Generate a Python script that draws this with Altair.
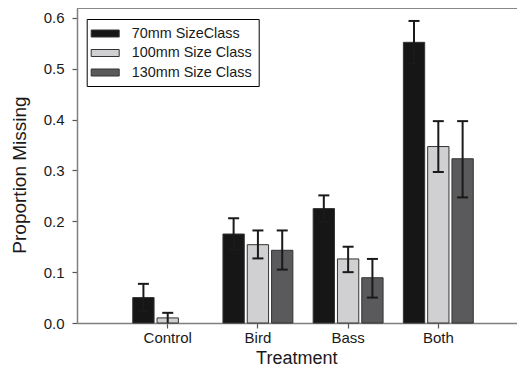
import altair as alt
import pandas as pd

treatments = ["Control", "Bird", "Bass", "Both"]
size_classes = ["70mm SizeClass", "100mm Size Class", "130mm Size Class"]

# proportion missing per treatment, one list per size class (None = no bar)
prop_70 = [0.050, 0.175, 0.225, 0.552]
prop_100 = [0.010, 0.154, 0.126, 0.347]
prop_130 = [None, 0.143, 0.089, 0.323]

# error bar ends (upper / lower)
hi_70 = [0.077, 0.206, 0.251, 0.594]
lo_70 = [0.023, 0.144, 0.199, 0.510]
hi_100 = [0.020, 0.182, 0.150, 0.397]
lo_100 = [0.000, 0.127, 0.100, 0.297]
hi_130 = [None, 0.182, 0.126, 0.397]
lo_130 = [None, 0.105, 0.050, 0.247]

colors = ["#161616", "#d0d0d2", "#5a5a5c"]

rows = []
for sc, vals, his, los in zip(size_classes,
                              [prop_70, prop_100, prop_130],
                              [hi_70, hi_100, hi_130],
                              [lo_70, lo_100, lo_130]):
    for t, v, h, l in zip(treatments, vals, his, los):
        if v is None:
            continue
        rows.append({"treatment": t, "size": sc, "value": v, "hi": h, "lo": l})
df = pd.DataFrame(rows)

FONT = "Liberation Sans"
W, H = 440, 315

x_enc = alt.X(
    "treatment:N",
    sort=treatments,
    scale=alt.Scale(domain=treatments, paddingInner=0, paddingOuter=0.439, align=0.576),
    axis=alt.Axis(
        title="Treatment", labelAngle=0, tickSize=5, labelPadding=2,
        labelFontSize=15, labelFont=FONT, labelColor="#1a1a1a",
        titleFontSize=18, titleFont=FONT, titleFontWeight="normal", titleColor="#1a1a1a",
        titleX=219.3, titleY=40, titleBaseline="alphabetic", titleAlign="center",
        domainColor="#808080", domainWidth=1.5, tickColor="#555555", tickWidth=1.2,
        grid=False,
    ),
)
xo_enc = alt.XOffset(
    "size:N",
    sort=size_classes,
    scale=alt.Scale(domain=size_classes, paddingInner=0.123, paddingOuter=0.4175),
)
y_scale = alt.Scale(domain=[0, 0.6195], nice=False, zero=True)
y_axis = alt.Axis(
    title="Proportion Missing", values=[0, 0.1, 0.2, 0.3, 0.4, 0.5, 0.6], format=".1f",
    tickSize=5, labelPadding=8, labelFontSize=15, labelFont=FONT, labelColor="#1a1a1a",
    titleFontSize=19, titleFont=FONT, titleFontWeight="normal", titleColor="#1a1a1a",
    titleAngle=270, titleX=-52, titleY=166.5, titleBaseline="alphabetic", titleAlign="center",
    domainColor="#808080", domainWidth=1.5, tickColor="#555555", tickWidth=1.2,
    grid=False,
)

bars = alt.Chart(df).mark_bar(stroke="#333333", strokeWidth=1).encode(
    x=x_enc,
    xOffset=xo_enc,
    y=alt.Y("value:Q", scale=y_scale, axis=y_axis),
    fill=alt.Fill(
        "size:N",
        sort=size_classes,
        scale=alt.Scale(domain=size_classes, range=colors),
        legend=alt.Legend(
            title=None, orient="none", legendX=9.7, legendY=11,
            strokeColor="black", fillColor="white", padding=7,
            labelFontSize=14.4, labelFont=FONT, labelColor="#1a1a1a",
            symbolType="M-2,-0.5H2V0.5H-2Z", symbolSize=196, symbolOffset=4,
            symbolStrokeColor="#333333", symbolStrokeWidth=1, symbolOpacity=1,
            rowPadding=4.5, labelOffset=19,
        ),
    ),
)

rules = alt.Chart(df).mark_rule(color="#1a1a1a", strokeWidth=2).encode(
    x=alt.X("treatment:N", sort=treatments),
    xOffset=alt.XOffset("size:N", sort=size_classes),
    y=alt.Y("lo:Q"),
    y2="hi:Q",
)
caps_hi = alt.Chart(df).mark_tick(color="#1a1a1a", size=11, thickness=2, opacity=1).encode(
    x=alt.X("treatment:N", sort=treatments),
    xOffset=alt.XOffset("size:N", sort=size_classes),
    y=alt.Y("hi:Q"),
)
caps_lo = alt.Chart(df).transform_filter("datum.lo > 0.005").mark_tick(
    color="#1a1a1a", size=11, thickness=2, opacity=1
).encode(
    x=alt.X("treatment:N", sort=treatments),
    xOffset=alt.XOffset("size:N", sort=size_classes),
    y=alt.Y("lo:Q"),
)

# top frame line of the plot area
top_line = alt.Chart(df).mark_rule(color="#888888", strokeWidth=1.5).encode(
    x=alt.value(0), x2=alt.value(W), y=alt.value(0)
)

chart = alt.layer(top_line, bars, rules, caps_hi, caps_lo).properties(
    width=W,
    height=H,
    autosize=alt.AutoSizeParams(type="none"),
    padding={"left": 69, "top": 0, "right": 0, "bottom": 44},
).configure_view(
    stroke=None
).configure(background="white")

chart.save("out.html", embed_options={"renderer": "svg", "actions": False})
